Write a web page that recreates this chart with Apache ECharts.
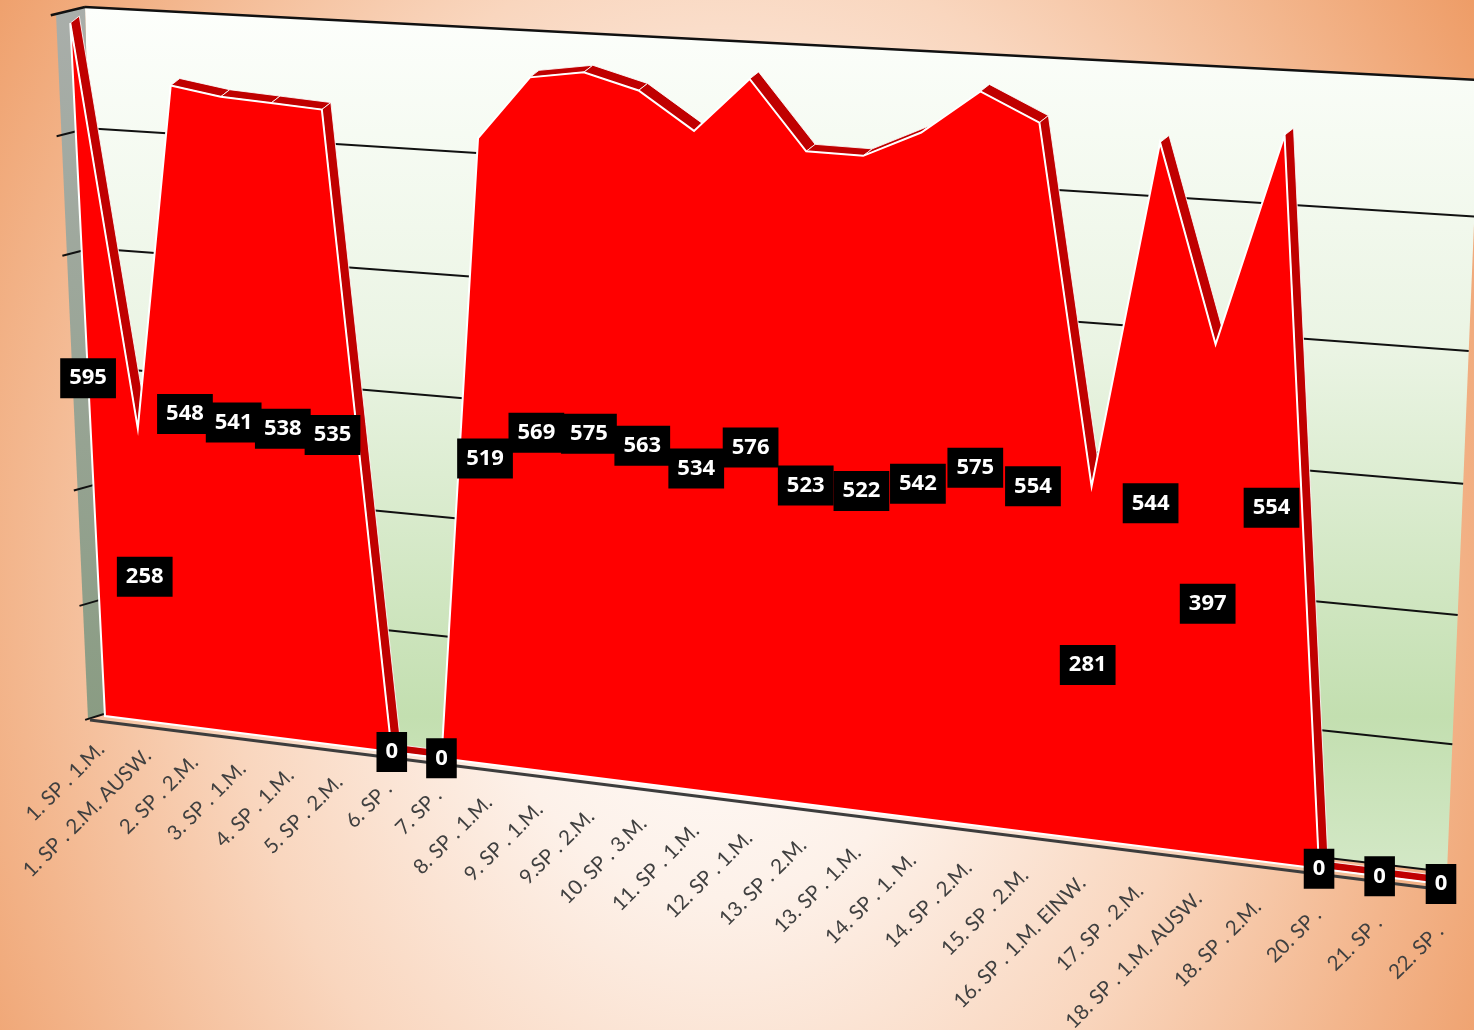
<!DOCTYPE html>
<html><head><meta charset="utf-8">
<script src="https://cdn.jsdelivr.net/npm/echarts@6/dist/echarts.min.js"></script>
<style>
html,body{margin:0;padding:0;}
body{width:1474px;height:1030px;overflow:hidden;
background: radial-gradient(ellipse 884px 1133px at 720px 580px, #ffffff 0%, #fdf1e9 28%, #f9d6be 56%, #f3b68d 80%, #ee9c66 100%);}
#chart{width:1474px;height:1030px;}
</style></head><body><div id="chart"></div>
<script>
const categories = [
  "1. SP . 1.M.", "1. SP . 2.M. AUSW.", "2. SP . 2.M.", "3. SP . 1.M.", "4. SP . 1.M.",
  "5. SP . 2.M.", "6. SP .", "7. SP .", "8. SP . 1.M.", "9. SP . 1.M.", "9.SP . 2.M.",
  "10. SP . 3.M.", "11. SP . 1.M.", "12. SP . 1.M.", "13. SP . 2.M.", "13. SP . 1.M.",
  "14. SP . 1. M.", "14. SP . 2.M.", "15. SP . 2.M.", "16. SP . 1.M. EINW.", "17. SP . 2.M.",
  "18. SP . 1.M. AUSW.", "18. SP . 2.M.", "20. SP .", "21. SP .", "22. SP ."
];
const values = [595, 258, 548, 541, 538, 535, 0, 0, 519, 569, 575, 563, 534, 576, 523, 522, 542, 575, 554, 281, 544, 397, 554, 0, 0, 0];
const yTicks = [0, 100, 200, 300, 400, 500, 600];
const yMax = 600;

// projective mapping of the unit square (u along categories, v along values) onto a quad
function makeH(p00, p10, p11, p01) {
  const [x0, y0] = p00, [x1, y1] = p10, [x2, y2] = p11, [x3, y3] = p01;
  const dx1 = x1 - x2, dx2 = x3 - x2, sx = x0 - x1 + x2 - x3;
  const dy1 = y1 - y2, dy2 = y3 - y2, sy = y0 - y1 + y2 - y3;
  const den = dx1 * dy2 - dx2 * dy1;
  const g = (sx * dy2 - dx2 * sy) / den, h = (dx1 * sy - sx * dy1) / den;
  const a = x1 - x0 + g * x1, b = x3 - x0 + h * x3, c = x0;
  const d = y1 - y0 + g * y1, e = y3 - y0 + h * y3, f = y0;
  return (u, v) => { const w = g * u + h * v + 1; return [(a * u + b * v + c) / w, (d * u + e * v + f) / w]; };
}
const FRONT = makeH([105, 716], [1441, 884], [1480, 80], [70, 17]);
const BACK = makeH([104, 714], [1447, 872], [1480, 80], [85, 7]);
const SIDE_PTS = [[88, 719], [104, 714], [85, 7], [56, 14]];
const DEPTH = [9, -7];

function uv(params, api, x, y) {
  const cs = params.coordSys;
  const p = api.coord([x, y]);
  return [(p[0] - cs.x) / cs.width, (cs.y + cs.height - p[1]) / cs.height];
}

function renderWalls(params, api) {
  const ch = [];
  ch.push({ type: 'polygon', shape: { points: [BACK(0, 0), BACK(1, 0), BACK(1, 1), BACK(0, 1)] },
    style: { fill: new echarts.graphic.LinearGradient(0, 0, 0, 1, [
      { offset: 0, color: '#fdfffc' }, { offset: 0.4, color: '#eaf4e3' },
      { offset: 0.82, color: '#c3dfb0' }, { offset: 1, color: '#d3e8c6' }]) } });
  ch.push({ type: 'polygon', shape: { points: SIDE_PTS },
    style: { fill: new echarts.graphic.LinearGradient(0, 0, 0, 1, [
      { offset: 0, color: '#a9aeaa' }, { offset: 1, color: '#8a9c83' }]) } });
  yTicks.forEach(t => {
    const v = uv(params, api, 0, t)[1];
    const top = t === yMax;
    const a = BACK(0, v), b = BACK(1, v);
    ch.push({ type: 'line', shape: { x1: a[0], y1: a[1], x2: b[0], y2: b[1] },
      style: { stroke: '#111', lineWidth: top ? 2.5 : 2 } });
    const vx = -16 - 13 * v, vy = 5 + 2 * v;
    ch.push({ type: 'line', shape: { x1: a[0] + vx * 1.18, y1: a[1] + vy * 1.18, x2: a[0], y2: a[1] },
      style: { stroke: '#111', lineWidth: top ? 2.5 : 2 } });
  });
  return { type: 'group', children: ch };
}

function renderArea(params, api) {
  const ch = [];
  const pts = values.map((val, i) => { const q = uv(params, api, i, val); return FRONT(q[0], q[1]); });
  const n = values.length;
  const u0 = uv(params, api, 0, 0), u1 = uv(params, api, n - 1, 0);
  const b0 = FRONT(u0[0], 0), b1 = FRONT(u1[0], 0);
  for (let i = 0; i < n - 1; i++) {
    const p = pts[i], q = pts[i + 1];
    ch.push({ type: 'polygon', shape: { points: [p, q, [q[0] + DEPTH[0], q[1] + DEPTH[1]], [p[0] + DEPTH[0], p[1] + DEPTH[1]]] },
      style: { fill: '#c00000', stroke: 'rgba(255,255,255,0.85)', lineWidth: 1 } });
  }
  ch.push({ type: 'polygon', shape: { points: [b0].concat(pts, [b1]) },
    style: { fill: '#ff0000', stroke: '#ffffff', lineWidth: 2, lineJoin: 'miter' } });
  const f0 = SIDE_PTS[0];
  ch.push({ type: 'line', shape: { x1: f0[0] + 2, y1: f0[1] + 1, x2: b1[0] + 4, y2: b1[1] + 6 },
    style: { stroke: '#3d3d3d', lineWidth: 3 } });
  return { type: 'group', children: ch };
}

function renderLabel(params, api) {
  const i = api.value(0), val = api.value(1);
  const q = uv(params, api, i, val / 2);
  const p = FRONT(q[0], q[1]);
  return { type: 'text', x: p[0], y: p[1],
    style: { text: String(val), fill: '#ffffff', font: 'bold 22px "Open Sans"', align: 'center', verticalAlign: 'middle',
      backgroundColor: '#000000', padding: [10, 9, 8, 9] } };
}

function renderAxisLabel(params, api) {
  const i = api.value(0);
  const q = uv(params, api, i, 0);
  const p = FRONT(q[0], 0);
  const u = q[0];
  return { type: 'text', x: p[0] - 4 + 3 * u, y: p[1] + 30 + 14 * u, rotation: Math.PI / 4,
    style: { text: categories[i], fill: '#404040', font: '20.5px Lato', align: 'right', verticalAlign: 'middle' } };
}

const chart = echarts.init(document.getElementById('chart'), null, { renderer: 'canvas' });
chart.setOption({
  backgroundColor: 'transparent',
  animation: false,
  grid: { left: 100, right: 100, top: 100, bottom: 100, show: false },
  xAxis: { type: 'category', data: categories, boundaryGap: false, show: false },
  yAxis: { type: 'value', min: 0, max: yMax, interval: 100, show: false },
  series: [
    { type: 'custom', name: 'walls', z: 1, clip: false, silent: true, data: [[0, 0]], renderItem: renderWalls },
    { type: 'custom', name: 'area', z: 2, clip: false, silent: true, data: [[0, 0]], renderItem: renderArea },
    { type: 'custom', name: 'labels', z: 3, clip: false, data: values.map((v, i) => [i, v]), renderItem: renderLabel },
    { type: 'custom', name: 'axisLabels', z: 3, clip: false, data: categories.map((c, i) => [i, 0]), renderItem: renderAxisLabel }
  ]
});
</script>
</body></html>
